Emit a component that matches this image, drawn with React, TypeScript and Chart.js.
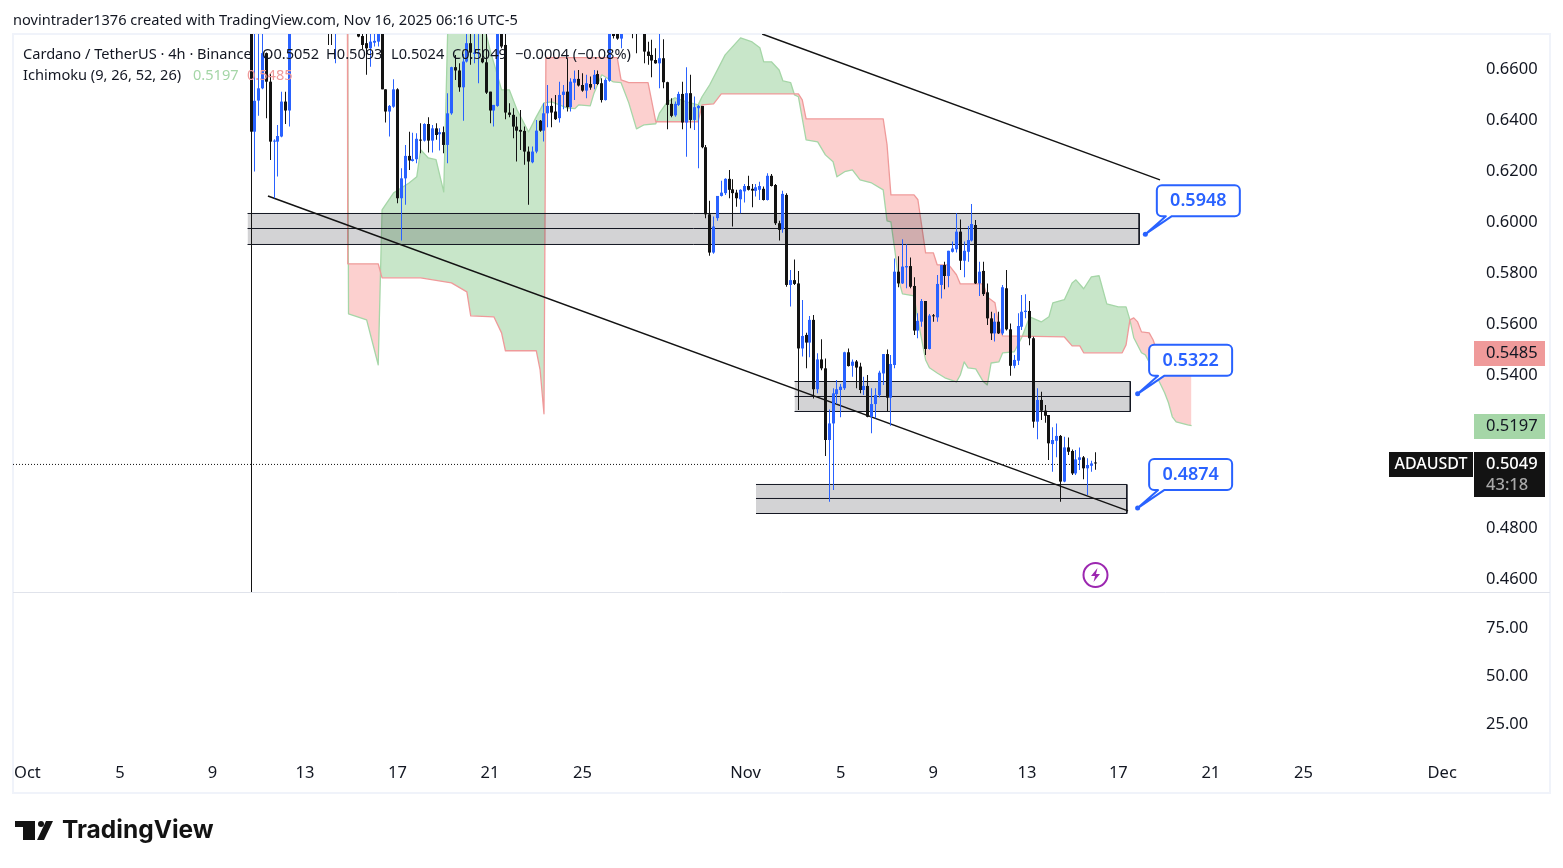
import { useEffect, useRef } from 'react'
import { Chart, registerables } from 'chart.js'

Chart.register(...registerables)

// 4h candles, index 0 is the first bar on the chart
const opens = [
  .7000,.6350,.6472,.6520,.6658,.6546,.6311,.6311,.6331,.6468,
  .6433,.6900,.6950,.7050,.7000,.7100,.7150,.7050,.7000,.6950,
  .6900,.6900,.6820,.6920,.6980,.6950,.6900,.6860,.6830,.6725,
  .6697,.6677,.6699,.6703,.6800,.6516,.6429,.6448,.6516,.6089,
  .6167,.6255,.6235,.6242,.6318,.6315,.6380,.6315,.6363,.6340,
  .6348,.6298,.6422,.6603,.6590,.6524,.6625,.6697,.6655,.6655,
  .6638,.6622,.6507,.6433,.6451,.6800,.6690,.6425,.6416,.6370,
  .6357,.6353,.6272,.6230,.6272,.6393,.6354,.6422,.6451,.6429,
  .6403,.6494,.6507,.6446,.6542,.6557,.6533,.6511,.6537,.6537,
  .6576,.6540,.6474,.6550,.6820,.6800,.6715,.6900,.6950,.6900,
  .6850,.6780,.6820,.6664,.6651,.6631,.6618,.6638,.6544,.6459,
  .6414,.6455,.6498,.6386,.6501,.6396,.6442,.6451,.6289,.6026,
  .5876,.6011,.6098,.6109,.6165,.6124,.6111,.6085,.6116,.6137,
  .6126,.6118,.6122,.6126,.6082,.6177,.6141,.5991,.5967,.6102,
  .5749,.5768,.5755,.5500,.5553,.5523,.5612,.5340,.5457,.5422,
  .5141,.5206,.5321,.5337,.5344,.5485,.5432,.5449,.5429,.5337,
  .5353,.5232,.5282,.5317,.5402,.5478,.5307,.5435,.5801,.5755,
  .5818,.5823,.5745,.5570,.5605,.5686,.5498,.5629,.5622,.5749,
  .5827,.5784,.5879,.5889,.5958,.5844,.5879,.5923,.5984,.5755,
  .5804,.5720,.5618,.5559,.5605,.5559,.5736,.5575,.5432,.5452,
  .5585,.5643,.5647,.5540,.5213,.5298,.5256,.5239,.5125,.5138,
  .5157,.4978,.5112,.5098,.5010,.5063,.5073,.5030,.5040,.5052,
]
const closes = [
  .6350,.6471,.6520,.6658,.6546,.6311,.6314,.6333,.6468,.6433,
  .6900,.6950,.7050,.7000,.7100,.7150,.7050,.7000,.6950,.6900,
  .6800,.6820,.6920,.6980,.6950,.6900,.6860,.6830,.6723,.6690,
  .6677,.6703,.6706,.6800,.6516,.6429,.6451,.6516,.6089,.6167,
  .6255,.6237,.6242,.6322,.6315,.6380,.6315,.6363,.6337,.6348,
  .6298,.6422,.6603,.6590,.6524,.6625,.6697,.6660,.6660,.6660,
  .6622,.6503,.6433,.6455,.6800,.6684,.6425,.6416,.6370,.6354,
  .6350,.6272,.6233,.6272,.6354,.6354,.6422,.6451,.6425,.6399,
  .6494,.6507,.6446,.6546,.6557,.6531,.6511,.6540,.6523,.6573,
  .6537,.6474,.6553,.6800,.6725,.6715,.6820,.6950,.6900,.6850,
  .6780,.6820,.6664,.6647,.6629,.6618,.6638,.6544,.6455,.6412,
  .6459,.6498,.6386,.6501,.6396,.6446,.6451,.6289,.6026,.5876,
  .5978,.6098,.6111,.6165,.6122,.6109,.6089,.6122,.6137,.6122,
  .6119,.6132,.6137,.6082,.6177,.6137,.5991,.5965,.6106,.5749,
  .5768,.5753,.5500,.5549,.5523,.5612,.5340,.5457,.5422,.5141,
  .5206,.5324,.5340,.5350,.5485,.5431,.5448,.5425,.5337,.5353,
  .5232,.5282,.5317,.5405,.5478,.5307,.5439,.5801,.5755,.5821,
  .5823,.5742,.5570,.5608,.5686,.5498,.5629,.5626,.5753,.5827,
  .5784,.5883,.5892,.5958,.5844,.5883,.5925,.5988,.5755,.5801,
  .5713,.5618,.5559,.5605,.5559,.5740,.5575,.5432,.5455,.5588,
  .5644,.5648,.5540,.5213,.5298,.5256,.5236,.5128,.5141,.5157,
  .4978,.5112,.5095,.5010,.5065,.5073,.5030,.5043,.5049,.5049,
]
const highs = [
  .7050,.7000,.6750,.6733,.6660,.6579,.6320,.6376,.6507,.6507,
  .6950,.6990,.7090,.7090,.7140,.7190,.7190,.7090,.7040,.6990,
  .6950,.6950,.7000,.7020,.7030,.6990,.6940,.6900,.6860,.6760,
  .6760,.6750,.6800,.6850,.6850,.6516,.6455,.6556,.6520,.6207,
  .6298,.6350,.6346,.6344,.6383,.6383,.6407,.6376,.6383,.6363,
  .6370,.6501,.6605,.6651,.6618,.6655,.6740,.6740,.6740,.6740,
  .6740,.6740,.6507,.6455,.6900,.6900,.6800,.6461,.6442,.6409,
  .6435,.6370,.6292,.6292,.6396,.6396,.6461,.6533,.6481,.6494,
  .6546,.6533,.6638,.6559,.6590,.6592,.6579,.6573,.6566,.6592,
  .6590,.6559,.6559,.6900,.6900,.6900,.6900,.7000,.7000,.6950,
  .6900,.6880,.6900,.6703,.6710,.6677,.6760,.6712,.6546,.6481,
  .6468,.6507,.6546,.6603,.6573,.6488,.6455,.6451,.6298,.6079,
  .6017,.6098,.6158,.6167,.6200,.6163,.6122,.6124,.6145,.6177,
  .6145,.6145,.6154,.6135,.6187,.6184,.6145,.6001,.6118,.6109,
  .5808,.5849,.5804,.5690,.5562,.5627,.5631,.5481,.5536,.5461,
  .5261,.5344,.5376,.5361,.5487,.5500,.5457,.5455,.5444,.5389,
  .5396,.5344,.5344,.5413,.5478,.5496,.5474,.5853,.5862,.5928,
  .5909,.5857,.5779,.5638,.5694,.5686,.5635,.5635,.5788,.5827,
  .5840,.5883,.5919,.6030,.6006,.5919,.5980,.6066,.6004,.5840,
  .5840,.5755,.5644,.5638,.5644,.5749,.5808,.5598,.5474,.5638,
  .5710,.5713,.5686,.5546,.5344,.5330,.5278,.5239,.5191,.5206,
  .5161,.5154,.5151,.5104,.5102,.5112,.5078,.5069,.5060,.5093,
]
const lows = [
  .6230,.6194,.6412,.6516,.6403,.6239,.6089,.6174,.6328,.6380,
  .6370,.6860,.6910,.6960,.6960,.7060,.7010,.6960,.6910,.6860,
  .6690,.6690,.6618,.6880,.6900,.6850,.6810,.6780,.6720,.6673,
  .6573,.6605,.6684,.6684,.6516,.6386,.6331,.6444,.6069,.5923,
  .6063,.6200,.6233,.6226,.6265,.6311,.6268,.6268,.6318,.6276,
  .6265,.6226,.6416,.6553,.6507,.6393,.6621,.6612,.6618,.6540,
  .6618,.6498,.6383,.6370,.6448,.6677,.6399,.6407,.6324,.6233,
  .6278,.6220,.6063,.6226,.6265,.6350,.6311,.6367,.6367,.6396,
  .6386,.6438,.6429,.6429,.6474,.6527,.6507,.6481,.6514,.6516,
  .6533,.6464,.6472,.6546,.6715,.6710,.6677,.6850,.6830,.6716,
  .6658,.6760,.6618,.6612,.6563,.6616,.6520,.6520,.6360,.6407,
  .6409,.6451,.6360,.6252,.6363,.6357,.6207,.6285,.6011,.5863,
  .5871,.6001,.6096,.6102,.6089,.5978,.6056,.6030,.6072,.6119,
  .6054,.6096,.6082,.6080,.6080,.6135,.5984,.5923,.5954,.5742,
  .5664,.5749,.5259,.5468,.5422,.5465,.5304,.5324,.5415,.5078,
  .4899,.4945,.5282,.5230,.5337,.5429,.5389,.5344,.5324,.5317,
  .5230,.5167,.5226,.5308,.5357,.5255,.5197,.5422,.5740,.5753,
  .5736,.5736,.5553,.5540,.5585,.5474,.5496,.5605,.5605,.5696,
  .5732,.5740,.5876,.5876,.5808,.5779,.5840,.5919,.5753,.5706,
  .5706,.5592,.5533,.5527,.5557,.5553,.5570,.5393,.5422,.5435,
  .5572,.5618,.5513,.5189,.5144,.5219,.5209,.5063,.5017,.5073,
  .4899,.4975,.5082,.5004,.5004,.5023,.4987,.4925,.5017,.5024,
]

// Ichimoku leading spans, read at the bends of the cloud edges
const spanABars = [
  25, 25.3, 30, 33, 34, 37, 41, 43, 44, 46, 48, 50, 51, 52, 61, 62, 63, 65, 67, 69, 72, 74, 76, 78, 82,
  84, 85, 88, 89, 91, 94, 96, 98, 100, 102, 105, 106, 108, 110, 113, 116, 117, 119, 123, 127, 130, 132,
  133, 135, 137, 138, 140, 141, 142, 144, 147, 149, 151, 152, 154, 156, 158, 161, 164, 165, 166, 167,
  168, 169, 172, 173, 175, 176, 178, 180, 183, 184, 185, 186, 188, 190, 191, 192, 194, 195, 198, 200,
  202, 205, 207, 208, 211, 213, 214, 216, 218, 220, 222, 225, 227, 228, 229, 231, 232, 235, 237, 238,
  239, 240, 243, 244,
]
const spanAValues = [
  .7000,.5636,.5612,.5436,.6043,.6110,.6149,.6173,.6279,.6247,.6240,.6114,.6730,.6900,.6733,.6671,.6620,.6514,.6514,.6436,.6349,.6408,.6463,.6467,.6443,
  .6440,.6455,.6451,.6502,.6573,.6545,.6542,.6463,.6361,.6377,.6381,.6424,.6467,.6483,.6467,.6455,.6487,.6534,.6651,.6718,.6702,.6679,
  .6624,.6624,.6592,.6549,.6542,.6494,.6487,.6318,.6310,.6259,.6232,.6173,.6193,.6200,.6161,.6149,.6122,.6000,.5996,.5887,
  .5769,.5714,.5706,.5612,.5455,.5424,.5404,.5385,.5369,.5396,.5447,.5424,.5420,.5369,.5357,.5443,.5447,.5483,.5487,.5545,
  .5624,.5604,.5624,.5679,.5691,.5757,.5769,.5734,.5781,.5785,.5675,.5663,.5663,.5612,.5542,.5483,.5475,.5389,.5326,.5287,
  .5232,.5212,.5200,.5197,
]
const spanBBars = [
  25, 25.1, 33, 34, 44, 52, 56, 57, 63, 65, 66, 74, 75, 76, 76.5, 95, 96, 98, 103, 105, 116, 117, 120, 122, 142,
  143, 144, 164, 165, 166, 172, 173, 175, 177, 178, 181, 183, 184, 190, 191, 193, 194, 195, 211, 213, 215, 216,
  226, 227, 228, 229, 230, 231, 233, 234, 235, 244,
]
const spanBValues = [
  .7000,.5832,.5832,.5777,.5777,.5757,.5722,.5628,.5624,.5561,.5491,.5491,.5416,.5244,.6640,.6640,.6553,.6542,.6542,.6389,.6389,.6455,.6459,.6498,.6498,
  .6475,.6400,.6400,.6298,.6102,.6102,.6083,.5875,.5875,.5828,.5828,.5789,.5753,.5753,.5702,.5679,.5585,.5549,.5545,.5510,.5510,.5483,
  .5483,.5514,.5612,.5620,.5604,.5565,.5561,.5534,.5490,.5485,
]

// rectangles drawn on the chart, each with a middle line
const boxStarts = [-0.9, 141, 131]
const boxEnds = [230.4, 228.1, 227.2]
const boxTops = [.60292, .53704, .49666]
const boxMids = [.59703, .53116, .49117]
const boxBottoms = [.59076, .52528, .48528]

// trendlines and the vertical marker
const lowerTrendBars = [4.4, 227.5]
const lowerTrendPrices = [.6098, .4863]
const upperTrendBars = [132.6, 235.8]
const upperTrendPrices = [.6733, .6161]
const markerBar = 0.13
const lastPrice = .5049
const lastPriceLine = .50452

// callouts
const calloutBars = [232, 230, 230]
const calloutPrices = [.5948, .5322, .4874]

const priceTicks = [.66, .64, .62, .60, .58, .56, .54, .48, .46]
const oscTicks = [75, 50, 25]
const dateTicks = [-58, -34, -10, 14, 38, 62, 86, 128.3, 153, 177, 201.3, 225, 249, 273, 309]
const dateLabels = ['Oct', '5', '9', '13', '17', '21', '25', 'Nov', '5', '9', '13', '17', '21', '25', 'Dec']

const PRICE_MIN = .4545
const PRICE_MAX = .6733
const BLUE = '#2962ff'
const BLACK = '#131313'
const INK = '#131722'
const SANS = '"Noto Sans", sans-serif'
const LEGEND_FONT = `14.6px ${SANS}`

function pts(xs: number[], ys: number[]) {
  return xs.map((x, i) => ({ x, y: ys[i] }))
}

function text(ctx: any, s: string, x: number, y: number, font: string, color: string, align = 'left') {
  ctx.font = font
  ctx.fillStyle = color
  ctx.textAlign = align
  ctx.textBaseline = 'middle'
  ctx.fillText(s, x, y)
}

const snapCandles = {
  id: 'snapCandles',
  afterDatasetsUpdate(chart: any) {
    chart.data.datasets.forEach((ds: any, i: number) => {
      if (ds.type !== 'bar') return
      chart.getDatasetMeta(i).data.forEach((el: any) => {
        el.x = Math.floor(el.x) + 0.5
      })
    })
  },
}

const pageFrame = {
  id: 'pageFrame',
  beforeDraw(chart: any) {
    const { ctx, chartArea, scales } = chart
    ctx.save()
    ctx.fillStyle = '#fff'
    ctx.fillRect(0, 0, chart.width, chart.height)
    ctx.strokeStyle = '#f0f3fa'
    ctx.lineWidth = 2
    ctx.strokeRect(chartArea.left, chartArea.top, scales.y.right - chartArea.left, scales.x.bottom - chartArea.top)
    ctx.strokeStyle = '#e0e3eb'
    ctx.lineWidth = 1
    ctx.beginPath()
    ctx.moveTo(chartArea.left, Math.round(scales.y.bottom) + 0.5)
    ctx.lineTo(scales.y.right, Math.round(scales.y.bottom) + 0.5)
    ctx.stroke()
    ctx.restore()
  },
}

const overlays = {
  id: 'overlays',
  afterDraw(chart: any) {
    const { ctx, scales } = chart
    const x = scales.x
    const y = scales.y
    ctx.save()

    // callouts
    calloutBars.forEach((bar, i) => {
      const ax = x.getPixelForValue(bar)
      const ay = y.getPixelForValue(calloutPrices[i])
      const l = ax + 11.5
      const r = l + 83
      const b = ay - 18
      const t = b - 31
      ctx.beginPath()
      ctx.moveTo(l + 5, t)
      ctx.arcTo(r, t, r, b, 5)
      ctx.arcTo(r, b, l, b, 5)
      ctx.lineTo(l + 15, b)
      ctx.lineTo(ax, ay)
      ctx.lineTo(l + 9, b)
      ctx.arcTo(l, b, l, t, 5)
      ctx.arcTo(l, t, r, t, 5)
      ctx.closePath()
      ctx.fillStyle = '#fff'
      ctx.fill()
      ctx.strokeStyle = BLUE
      ctx.lineWidth = 2
      ctx.lineJoin = 'round'
      ctx.stroke()
      ctx.beginPath()
      ctx.arc(ax, ay, 2.5, 0, Math.PI * 2)
      ctx.fillStyle = BLUE
      ctx.fill()
      text(ctx, calloutPrices[i].toFixed(4), (l + r) / 2, (t + b) / 2 + 0.5, `600 18px ${SANS}`, BLUE, 'center')
    })

    // labels on the price scale
    const labelBox = (price: number, color: string) => {
      const py = Math.floor(y.getPixelForValue(price))
      ctx.fillStyle = color
      ctx.fillRect(1474, py - 11, 71, 25)
      text(ctx, price.toFixed(4), 1486, py + 1.5, `16.5px ${SANS}`, INK)
    }
    labelBox(spanBValues[spanBValues.length - 1], '#ef9a9a')
    labelBox(spanAValues[spanAValues.length - 1], '#a5d6a7')

    const ly = Math.floor(y.getPixelForValue(lastPriceLine))
    ctx.fillStyle = BLACK
    ctx.fillRect(1389, ly - 12, 84, 25)
    ctx.fillRect(1474, ly - 12, 71, 45)
    text(ctx, 'ADAUSDT', 1431, ly + 0.5, `500 16px ${SANS}`, '#fff', 'center')
    text(ctx, lastPrice.toFixed(4), 1486, ly + 0.5, `500 16.5px ${SANS}`, '#fff')
    text(ctx, '43:18', 1486, ly + 21, `500 16.5px ${SANS}`, '#a8a8a8')

    // lightning badge
    ctx.beginPath()
    ctx.arc(1095.5, 575, 12, 0, Math.PI * 2)
    ctx.strokeStyle = '#9c27b0'
    ctx.lineWidth = 2
    ctx.stroke()
    ctx.beginPath()
    ctx.moveTo(1097.5, 568)
    ctx.lineTo(1091, 576)
    ctx.lineTo(1095, 576)
    ctx.lineTo(1093.5, 582)
    ctx.lineTo(1100, 574)
    ctx.lineTo(1096, 574)
    ctx.closePath()
    ctx.fillStyle = '#9c27b0'
    ctx.fill()

    // legend
    text(ctx, 'Cardano / TetherUS · 4h · Binance', 23, 54.5, LEGEND_FONT, INK)
    text(ctx, 'O0.5052', 262, 54.5, LEGEND_FONT, INK)
    text(ctx, 'H0.5093', 326, 54.5, LEGEND_FONT, INK)
    text(ctx, 'L0.5024', 391, 54.5, LEGEND_FONT, INK)
    text(ctx, 'C0.5049', 452, 54.5, LEGEND_FONT, INK)
    text(ctx, '−0.0004 (−0.08%)', 515, 54.5, LEGEND_FONT, INK)
    text(ctx, 'Ichimoku (9, 26, 52, 26)', 23, 75.5, LEGEND_FONT, INK)
    text(ctx, '0.5197', 193, 75.5, LEGEND_FONT, '#a5d6a7')
    text(ctx, '0.5485', 247, 75.5, LEGEND_FONT, '#ef9a9a')

    // header and footer
    text(ctx, 'novintrader1376 created with TradingView.com, Nov 16, 2025 06:16 UTC-5', 13, 20.5, LEGEND_FONT, INK)
    ctx.fillStyle = BLACK
    ctx.fillRect(15, 821, 20, 6)
    ctx.fillRect(23, 821, 12, 19)
    ctx.beginPath()
    ctx.arc(41, 824, 3, 0, Math.PI * 2)
    ctx.fill()
    ctx.beginPath()
    ctx.moveTo(46, 821)
    ctx.lineTo(53, 821)
    ctx.lineTo(44, 840)
    ctx.lineTo(37, 840)
    ctx.closePath()
    ctx.fill()
    text(ctx, 'TradingView', 62, 830.5, `700 24.5px Inter, ${SANS}`, BLACK)

    ctx.restore()
  },
}

export default function App() {
  const chartRef = useRef<HTMLCanvasElement>(null)

  useEffect(() => {
    if (!chartRef.current) return
    document.body.style.margin = '0'

    const barColors = closes.map((c, i) => (c >= opens[i] ? BLUE : BLACK))
    const line = { type: 'line', pointRadius: 0, tension: 0, fill: false, borderJoinStyle: 'round' }

    const datasets: any[] = [
      {
        ...line,
        data: pts(spanABars, spanAValues),
        borderColor: '#a5d6a7',
        borderWidth: 1.3,
        fill: { target: 1, above: '#c8e6c9', below: '#fcd0cf' },
        order: 10,
      },
      {
        ...line,
        data: pts(spanBBars, spanBValues),
        borderColor: '#ef9a9a',
        borderWidth: 1.3,
        order: 9,
      },
    ]

    boxStarts.forEach((start, i) => {
      const end = boxEnds[i]
      const edge = { ...line, borderColor: INK, borderWidth: 1, order: 6 }
      datasets.push({
        ...edge,
        data: pts([start, end], [boxTops[i], boxTops[i]]),
        fill: { value: boxBottoms[i] },
        backgroundColor: 'rgba(19,23,34,0.19)',
      })
      datasets.push({ ...edge, data: pts([start, end], [boxMids[i], boxMids[i]]) })
      datasets.push({ ...edge, data: pts([start, end], [boxBottoms[i], boxBottoms[i]]) })
      datasets.push({ ...edge, data: pts([end, end], [boxTops[i], boxBottoms[i]]) })
    })

    datasets.push(
      { ...line, data: pts(lowerTrendBars, lowerTrendPrices), borderColor: BLACK, borderWidth: 1.5, order: 5 },
      { ...line, data: pts(upperTrendBars, upperTrendPrices), borderColor: BLACK, borderWidth: 1.5, order: 5 },
      { ...line, data: pts([markerBar, markerBar], [PRICE_MAX, PRICE_MIN]), borderColor: BLACK, borderWidth: 1, order: 5 },
      {
        ...line,
        data: pts([-61.74, 215], [lastPriceLine, lastPriceLine]),
        borderColor: BLACK,
        borderWidth: 1,
        borderDash: [1, 2],
        order: 4,
      },
      {
        type: 'bar',
        data: lows.map((l, i) => ({ x: i, y: [l, highs[i]] })),
        backgroundColor: barColors,
        barThickness: 1,
        grouped: false,
        borderWidth: 0,
        inflateAmount: 0,
        order: 2,
      },
      {
        type: 'bar',
        data: opens.map((o, i) => ({ x: i, y: [Math.min(o, closes[i]), Math.max(o, closes[i])] })),
        backgroundColor: barColors,
        barThickness: 3,
        grouped: false,
        borderWidth: 0,
        inflateAmount: 0,
        minBarLength: 1,
        order: 1,
      },
    )

    const tickFont = { family: SANS, size: 16.5 }

    const chart = new Chart(chartRef.current, {
      type: 'bar',
      data: { datasets },
      plugins: [snapCandles, pageFrame, overlays],
      options: {
        responsive: false,
        animation: false,
        devicePixelRatio: 1,
        events: [],
        layout: { padding: { left: 13, top: 34, right: 13, bottom: 75 } },
        plugins: { legend: { display: false }, tooltip: { enabled: false } },
        scales: {
          x: {
            type: 'linear',
            min: -61.74,
            max: 317,
            offset: false,
            grid: { display: false, drawTicks: false, offset: false },
            border: { display: false },
            afterBuildTicks: (s: any) => {
              s.ticks = dateTicks.map((value) => ({ value }))
            },
            afterFit: (s: any) => {
              s.height = 41
            },
            ticks: {
              autoSkip: false,
              maxRotation: 0,
              padding: 11,
              color: INK,
              font: tickFont,
              callback: (v: any) => dateLabels[dateTicks.indexOf(v)],
            },
          },
          y: {
            type: 'linear',
            position: 'right',
            stack: 'panes',
            stackWeight: 558,
            min: PRICE_MIN,
            max: PRICE_MAX,
            grid: { display: false, drawTicks: false },
            border: { display: false },
            afterBuildTicks: (s: any) => {
              s.ticks = priceTicks.map((value) => ({ value }))
            },
            afterFit: (s: any) => {
              s.width = 77
            },
            ticks: { padding: 13, labelOffset: 1, color: INK, font: tickFont, callback: (v: any) => Number(v).toFixed(4) },
          },
          y2: {
            type: 'linear',
            position: 'right',
            stack: 'panes',
            stackWeight: 160,
            min: 9.9,
            max: 93.2,
            grid: { display: false, drawTicks: false },
            border: { display: false },
            afterBuildTicks: (s: any) => {
              s.ticks = oscTicks.map((value) => ({ value }))
            },
            afterFit: (s: any) => {
              s.width = 77
            },
            ticks: { padding: 13, labelOffset: 1, color: INK, font: tickFont, callback: (v: any) => Number(v).toFixed(2) },
          },
        },
      },
    } as any)

    return () => {
      chart.destroy()
    }
  }, [])

  return <canvas ref={chartRef} width={1563} height={868} style={{ display: 'block' }}></canvas>
}
